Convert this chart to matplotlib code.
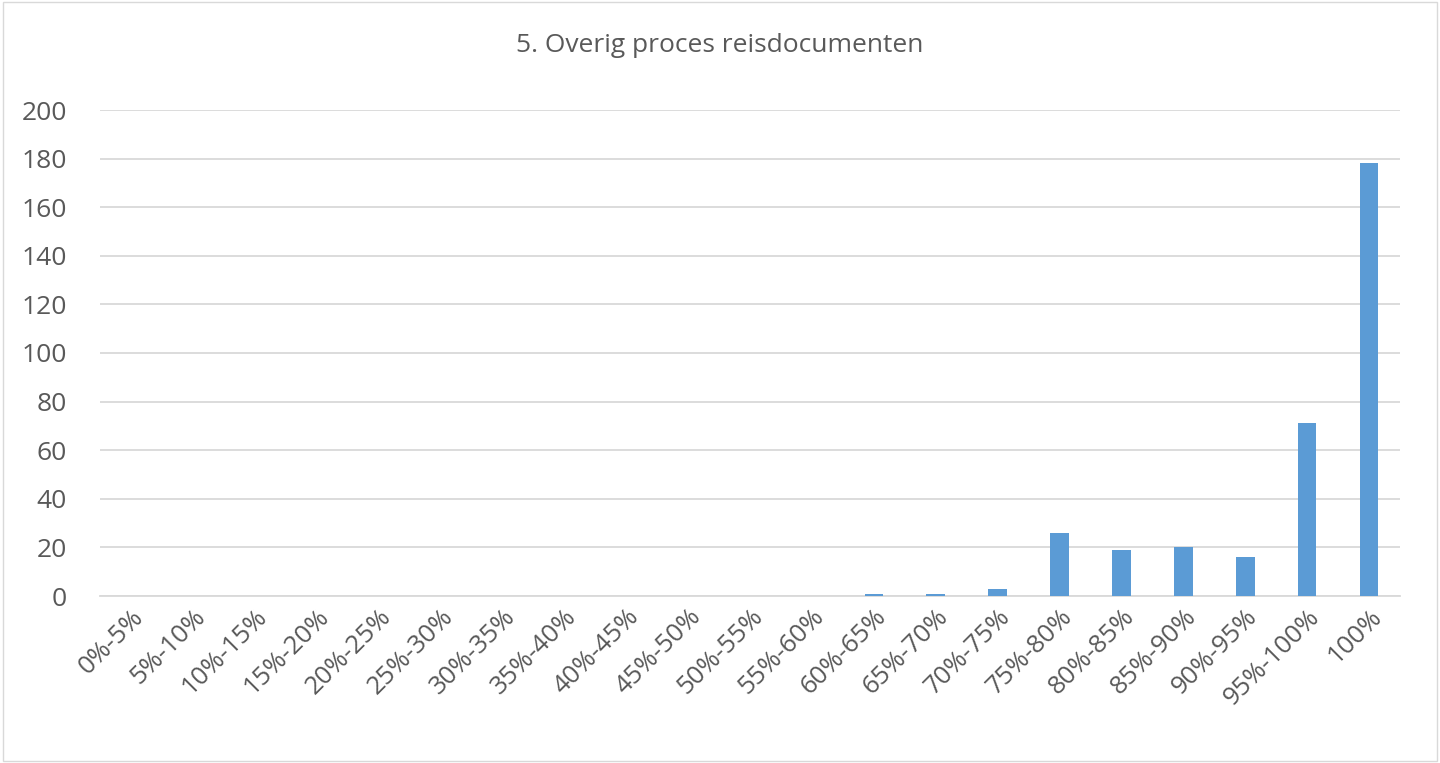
import matplotlib.pyplot as plt
from matplotlib.patches import Rectangle

# Bins and counts
categories = ["0%-5%", "5%-10%", "10%-15%", "15%-20%", "20%-25%", "25%-30%",
              "30%-35%", "35%-40%", "40%-45%", "45%-50%", "50%-55%", "55%-60%",
              "60%-65%", "65%-70%", "70%-75%", "75%-80%", "80%-85%", "85%-90%",
              "90%-95%", "95%-100%", "100%"]
counts = [0, 0, 0, 0, 0, 0, 0, 0, 0, 0, 0, 0, 1, 1, 3, 26, 19, 20, 16, 71, 178]

plt.rcParams['font.family'] = ['Open Sans', 'DejaVu Sans']
fig = plt.figure(figsize=(14.4, 7.63), dpi=100)
ax = fig.add_axes([100 / 1440, 1 - 596 / 763, 1300 / 1440, 486 / 763])

x = range(len(categories))
ax.bar(x, counts, width=0.3, color="#5B9BD5", zorder=3)
ax.set_xlim(-0.5, len(categories) - 0.5)
ax.set_ylim(0, 200)
ax.set_yticks(range(0, 201, 20))
ax.grid(axis="y", color="#D9D9D9", linewidth=1.3, zorder=0)
ax.set_xticks(list(x))
ax.set_xticklabels(categories, rotation=45, ha="right", rotation_mode="anchor")
ax.tick_params(axis="both", length=0, labelcolor="#595959")
ax.tick_params(axis="x", labelsize=18.5, pad=6)
ax.tick_params(axis="y", labelsize=19, pad=24)
for s in ["top", "right", "left"]:
    ax.spines[s].set_visible(False)
ax.spines["bottom"].set_color("#D9D9D9")
ax.spines["bottom"].set_linewidth(1.3)

fig.text(0.5, 1 - 45 / 763, "5. Overig proces reisdocumenten", ha="center", va="center",
         fontsize=19, color="#595959")
fig.patches.append(Rectangle((0.002, 0.003), 0.996, 0.994, transform=fig.transFigure,
                             fill=False, edgecolor="#D9D9D9", linewidth=1))

fig.savefig("out.png", dpi=100)
